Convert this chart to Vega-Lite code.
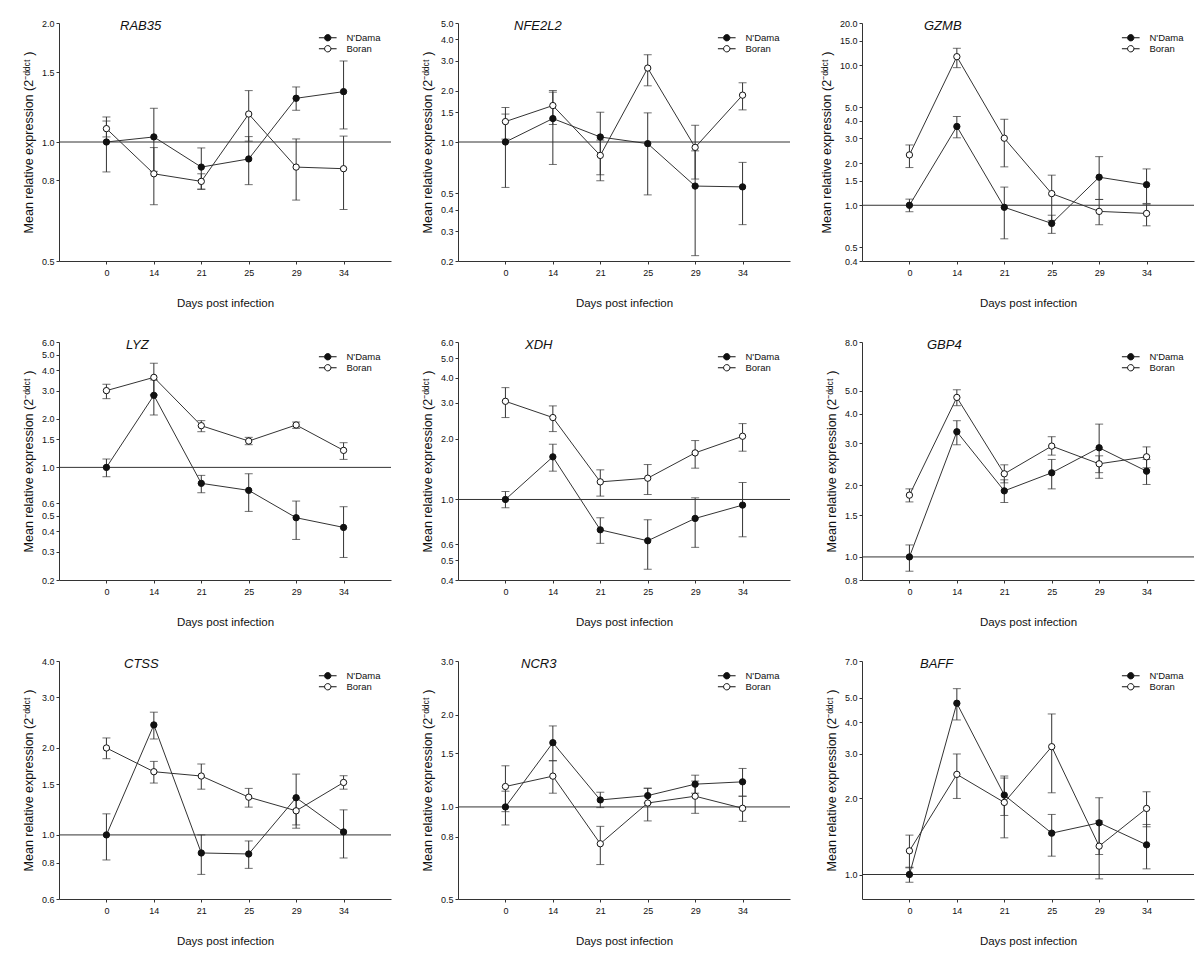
{
  "$schema": "https://vega.github.io/schema/vega-lite/v6.json",
  "padding": {"left": 22, "top": 19, "right": 5, "bottom": 5},
  "spacing": {"row": 29, "column": 29},
  "columns": 3,
  "datasets": {
    "d": [
      {"gene":"RAB35","day":0,"breed":"N'Dama","mean":1.0,"lo":0.84,"hi":1.157},
      {"gene":"RAB35","day":14,"breed":"N'Dama","mean":1.03,"lo":0.843,"hi":1.217},
      {"gene":"RAB35","day":21,"breed":"N'Dama","mean":0.864,"lo":0.76,"hi":0.966},
      {"gene":"RAB35","day":25,"breed":"N'Dama","mean":0.906,"lo":0.78,"hi":1.032},
      {"gene":"RAB35","day":29,"breed":"N'Dama","mean":1.29,"lo":1.203,"hi":1.378},
      {"gene":"RAB35","day":34,"breed":"N'Dama","mean":1.341,"lo":1.079,"hi":1.603},
      {"gene":"RAB35","day":0,"breed":"Boran","mean":1.081,"lo":1.03,"hi":1.13},
      {"gene":"RAB35","day":14,"breed":"Boran","mean":0.831,"lo":0.694,"hi":0.968},
      {"gene":"RAB35","day":21,"breed":"Boran","mean":0.795,"lo":0.759,"hi":0.831},
      {"gene":"RAB35","day":25,"breed":"Boran","mean":1.177,"lo":1.005,"hi":1.349},
      {"gene":"RAB35","day":29,"breed":"Boran","mean":0.864,"lo":0.713,"hi":1.018},
      {"gene":"RAB35","day":34,"breed":"Boran","mean":0.856,"lo":0.675,"hi":1.035},

      {"gene":"NFE2L2","day":0,"breed":"N'Dama","mean":1.0,"lo":0.541,"hi":1.459},
      {"gene":"NFE2L2","day":14,"breed":"N'Dama","mean":1.373,"lo":0.738,"hi":1.962},
      {"gene":"NFE2L2","day":21,"breed":"N'Dama","mean":1.07,"lo":0.592,"hi":1.496},
      {"gene":"NFE2L2","day":25,"breed":"N'Dama","mean":0.978,"lo":0.489,"hi":1.483},
      {"gene":"NFE2L2","day":29,"breed":"N'Dama","mean":0.551,"lo":0.215,"hi":0.887},
      {"gene":"NFE2L2","day":34,"breed":"N'Dama","mean":0.545,"lo":0.327,"hi":0.759},
      {"gene":"NFE2L2","day":0,"breed":"Boran","mean":1.318,"lo":1.04,"hi":1.594},
      {"gene":"NFE2L2","day":14,"breed":"Boran","mean":1.637,"lo":1.267,"hi":2.007},
      {"gene":"NFE2L2","day":21,"breed":"Boran","mean":0.834,"lo":0.642,"hi":1.026},
      {"gene":"NFE2L2","day":25,"breed":"Boran","mean":2.718,"lo":2.138,"hi":3.255},
      {"gene":"NFE2L2","day":29,"breed":"Boran","mean":0.93,"lo":0.606,"hi":1.254},
      {"gene":"NFE2L2","day":34,"breed":"Boran","mean":1.884,"lo":1.544,"hi":2.228},

      {"gene":"GZMB","day":0,"breed":"N'Dama","mean":1.0,"lo":0.899,"hi":1.106},
      {"gene":"GZMB","day":14,"breed":"N'Dama","mean":3.65,"lo":3.03,"hi":4.3},
      {"gene":"GZMB","day":21,"breed":"N'Dama","mean":0.967,"lo":0.576,"hi":1.348},
      {"gene":"GZMB","day":25,"breed":"N'Dama","mean":0.742,"lo":0.63,"hi":0.849},
      {"gene":"GZMB","day":29,"breed":"N'Dama","mean":1.586,"lo":1.1,"hi":2.224},
      {"gene":"GZMB","day":34,"breed":"N'Dama","mean":1.402,"lo":1.03,"hi":1.817},
      {"gene":"GZMB","day":0,"breed":"Boran","mean":2.288,"lo":1.858,"hi":2.694},
      {"gene":"GZMB","day":14,"breed":"Boran","mean":11.5,"lo":9.6,"hi":13.2},
      {"gene":"GZMB","day":21,"breed":"Boran","mean":3.01,"lo":1.88,"hi":4.11},
      {"gene":"GZMB","day":25,"breed":"Boran","mean":1.211,"lo":0.78,"hi":1.64},
      {"gene":"GZMB","day":29,"breed":"Boran","mean":0.904,"lo":0.726,"hi":1.1},
      {"gene":"GZMB","day":34,"breed":"Boran","mean":0.874,"lo":0.713,"hi":1.017},

      {"gene":"LYZ","day":0,"breed":"N'Dama","mean":1.0,"lo":0.875,"hi":1.127},
      {"gene":"LYZ","day":14,"breed":"N'Dama","mean":2.8,"lo":2.114,"hi":3.49},
      {"gene":"LYZ","day":21,"breed":"N'Dama","mean":0.796,"lo":0.696,"hi":0.892},
      {"gene":"LYZ","day":25,"breed":"N'Dama","mean":0.72,"lo":0.533,"hi":0.913},
      {"gene":"LYZ","day":29,"breed":"N'Dama","mean":0.487,"lo":0.357,"hi":0.618},
      {"gene":"LYZ","day":34,"breed":"N'Dama","mean":0.424,"lo":0.276,"hi":0.57},
      {"gene":"LYZ","day":0,"breed":"Boran","mean":2.995,"lo":2.67,"hi":3.28},
      {"gene":"LYZ","day":14,"breed":"Boran","mean":3.62,"lo":2.82,"hi":4.43},
      {"gene":"LYZ","day":21,"breed":"Boran","mean":1.815,"lo":1.665,"hi":1.95},
      {"gene":"LYZ","day":25,"breed":"Boran","mean":1.457,"lo":1.383,"hi":1.536},
      {"gene":"LYZ","day":29,"breed":"Boran","mean":1.833,"lo":1.746,"hi":1.912},
      {"gene":"LYZ","day":34,"breed":"Boran","mean":1.275,"lo":1.121,"hi":1.423},

      {"gene":"XDH","day":0,"breed":"N'Dama","mean":1.0,"lo":0.91,"hi":1.095},
      {"gene":"XDH","day":14,"breed":"N'Dama","mean":1.624,"lo":1.38,"hi":1.875},
      {"gene":"XDH","day":21,"breed":"N'Dama","mean":0.708,"lo":0.607,"hi":0.812},
      {"gene":"XDH","day":25,"breed":"N'Dama","mean":0.625,"lo":0.452,"hi":0.794},
      {"gene":"XDH","day":29,"breed":"N'Dama","mean":0.806,"lo":0.58,"hi":1.019},
      {"gene":"XDH","day":34,"breed":"N'Dama","mean":0.938,"lo":0.654,"hi":1.213},
      {"gene":"XDH","day":0,"breed":"Boran","mean":3.056,"lo":2.54,"hi":3.57},
      {"gene":"XDH","day":14,"breed":"Boran","mean":2.54,"lo":2.165,"hi":2.9},
      {"gene":"XDH","day":21,"breed":"Boran","mean":1.222,"lo":1.039,"hi":1.401},
      {"gene":"XDH","day":25,"breed":"Boran","mean":1.274,"lo":1.058,"hi":1.488},
      {"gene":"XDH","day":29,"breed":"Boran","mean":1.699,"lo":1.428,"hi":1.955},
      {"gene":"XDH","day":34,"breed":"Boran","mean":2.053,"lo":1.732,"hi":2.371},

      {"gene":"GBP4","day":0,"breed":"N'Dama","mean":1.0,"lo":0.871,"hi":1.123},
      {"gene":"GBP4","day":14,"breed":"N'Dama","mean":3.357,"lo":2.96,"hi":3.736},
      {"gene":"GBP4","day":21,"breed":"N'Dama","mean":1.895,"lo":1.693,"hi":2.109},
      {"gene":"GBP4","day":25,"breed":"N'Dama","mean":2.257,"lo":1.932,"hi":2.568},
      {"gene":"GBP4","day":29,"breed":"N'Dama","mean":2.875,"lo":2.14,"hi":3.615},
      {"gene":"GBP4","day":34,"breed":"N'Dama","mean":2.293,"lo":2.016,"hi":2.57},
      {"gene":"GBP4","day":0,"breed":"Boran","mean":1.818,"lo":1.703,"hi":1.932},
      {"gene":"GBP4","day":14,"breed":"Boran","mean":4.68,"lo":4.32,"hi":5.04},
      {"gene":"GBP4","day":21,"breed":"Boran","mean":2.235,"lo":2.048,"hi":2.438},
      {"gene":"GBP4","day":25,"breed":"Boran","mean":2.922,"lo":2.678,"hi":3.2},
      {"gene":"GBP4","day":29,"breed":"Boran","mean":2.462,"lo":2.26,"hi":2.66},
      {"gene":"GBP4","day":34,"breed":"Boran","mean":2.635,"lo":2.37,"hi":2.9},

      {"gene":"CTSS","day":0,"breed":"N'Dama","mean":1.0,"lo":0.819,"hi":1.183},
      {"gene":"CTSS","day":14,"breed":"N'Dama","mean":2.403,"lo":2.148,"hi":2.66},
      {"gene":"CTSS","day":21,"breed":"N'Dama","mean":0.866,"lo":0.73,"hi":1.0},
      {"gene":"CTSS","day":25,"breed":"N'Dama","mean":0.859,"lo":0.766,"hi":0.953},
      {"gene":"CTSS","day":29,"breed":"N'Dama","mean":1.345,"lo":1.055,"hi":1.624},
      {"gene":"CTSS","day":34,"breed":"N'Dama","mean":1.024,"lo":0.832,"hi":1.221},
      {"gene":"CTSS","day":0,"breed":"Boran","mean":2.0,"lo":1.836,"hi":2.166},
      {"gene":"CTSS","day":14,"breed":"Boran","mean":1.655,"lo":1.512,"hi":1.797},
      {"gene":"CTSS","day":21,"breed":"Boran","mean":1.599,"lo":1.44,"hi":1.76},
      {"gene":"CTSS","day":25,"breed":"Boran","mean":1.351,"lo":1.248,"hi":1.449},
      {"gene":"CTSS","day":29,"breed":"Boran","mean":1.212,"lo":1.083,"hi":1.34},
      {"gene":"CTSS","day":34,"breed":"Boran","mean":1.519,"lo":1.44,"hi":1.603},

      {"gene":"NCR3","day":0,"breed":"N'Dama","mean":1.0,"lo":0.873,"hi":1.126},
      {"gene":"NCR3","day":14,"breed":"N'Dama","mean":1.622,"lo":1.416,"hi":1.84},
      {"gene":"NCR3","day":21,"breed":"N'Dama","mean":1.054,"lo":0.995,"hi":1.117},
      {"gene":"NCR3","day":25,"breed":"N'Dama","mean":1.089,"lo":1.03,"hi":1.151},
      {"gene":"NCR3","day":29,"breed":"N'Dama","mean":1.187,"lo":1.109,"hi":1.27},
      {"gene":"NCR3","day":34,"breed":"N'Dama","mean":1.208,"lo":1.084,"hi":1.336},
      {"gene":"NCR3","day":0,"breed":"Boran","mean":1.166,"lo":0.965,"hi":1.363},
      {"gene":"NCR3","day":14,"breed":"Boran","mean":1.261,"lo":1.109,"hi":1.416},
      {"gene":"NCR3","day":21,"breed":"Boran","mean":0.758,"lo":0.648,"hi":0.864},
      {"gene":"NCR3","day":25,"breed":"Boran","mean":1.03,"lo":0.9,"hi":1.151},
      {"gene":"NCR3","day":29,"breed":"Boran","mean":1.084,"lo":0.953,"hi":1.215},
      {"gene":"NCR3","day":34,"breed":"Boran","mean":0.99,"lo":0.897,"hi":1.084},

      {"gene":"BAFF","day":0,"breed":"N'Dama","mean":1.0,"lo":0.932,"hi":1.069},
      {"gene":"BAFF","day":14,"breed":"N'Dama","mean":4.762,"lo":4.09,"hi":5.44},
      {"gene":"BAFF","day":21,"breed":"N'Dama","mean":2.062,"lo":1.713,"hi":2.454},
      {"gene":"BAFF","day":25,"breed":"N'Dama","mean":1.458,"lo":1.182,"hi":1.729},
      {"gene":"BAFF","day":29,"breed":"N'Dama","mean":1.602,"lo":1.2,"hi":2.013},
      {"gene":"BAFF","day":34,"breed":"N'Dama","mean":1.311,"lo":1.053,"hi":1.578},
      {"gene":"BAFF","day":0,"breed":"Boran","mean":1.241,"lo":1.063,"hi":1.432},
      {"gene":"BAFF","day":14,"breed":"Boran","mean":2.491,"lo":2.0,"hi":3.0},
      {"gene":"BAFF","day":21,"breed":"Boran","mean":1.929,"lo":1.397,"hi":2.409},
      {"gene":"BAFF","day":25,"breed":"Boran","mean":3.206,"lo":2.106,"hi":4.32},
      {"gene":"BAFF","day":29,"breed":"Boran","mean":1.295,"lo":0.961,"hi":1.63},
      {"gene":"BAFF","day":34,"breed":"Boran","mean":1.826,"lo":1.545,"hi":2.126}
    ]
  },
  "data": {"name": "d"},
  "resolve": {"scale": {"fill": "independent"}},
  "concat": [
    {"width":332,"height":238,"title":{"text":"RAB35","dx":61},
     "layer":[
      {"data":{"values":[{}]},"mark":{"type":"rule","color":"#333","strokeWidth":1},
       "encoding":{"y":{"datum":1,"type":"quantitative","scale":{"type":"log","domain":[0.5,2],"nice":false},"axis":{"values":[0.5,0.8,1,1.5,2],"format":".1f","title":"Mean relative expression (2⁻ᵈᵈᶜᵗ )"}}}},
      {"transform":[{"filter":"datum.gene === 'RAB35'"}],
       "encoding":{"x":{"field":"day","type":"ordinal","scale":{"type":"point","padding":1},"axis":{"title":"Days post infection"}}},
       "layer":[
        {"mark":{"type":"rule","color":"#333","strokeWidth":1},"encoding":{"y":{"field":"lo","type":"quantitative","title":"Mean relative expression (2⁻ᵈᵈᶜᵗ )"},"y2":{"field":"hi"}}},
        {"mark":{"type":"tick","color":"#333","size":8,"thickness":1},"encoding":{"y":{"field":"lo","type":"quantitative","title":"Mean relative expression (2⁻ᵈᵈᶜᵗ )"}}},
        {"mark":{"type":"tick","color":"#333","size":8,"thickness":1},"encoding":{"y":{"field":"hi","type":"quantitative","title":"Mean relative expression (2⁻ᵈᵈᶜᵗ )"}}},
        {"mark":{"type":"line","color":"#333","strokeWidth":1},"encoding":{"y":{"field":"mean","type":"quantitative","title":"Mean relative expression (2⁻ᵈᵈᶜᵗ )"},"detail":{"field":"breed"}}},
        {"mark":{"type":"point","shape":"circle","filled":true,"size":40,"stroke":"#111","strokeWidth":1,"opacity":1},"encoding":{"y":{"field":"mean","type":"quantitative","title":"Mean relative expression (2⁻ᵈᵈᶜᵗ )"},"fill":{"field":"breed","type":"nominal","scale":{"domain":["N'Dama","Boran"],"range":["#111","#fff"]},"legend":{"title":null}}}}
       ]}
     ]},
    {"width":332,"height":238,"title":{"text":"NFE2L2","dx":56},
     "layer":[
      {"data":{"values":[{}]},"mark":{"type":"rule","color":"#333","strokeWidth":1},
       "encoding":{"y":{"datum":1,"type":"quantitative","scale":{"type":"log","domain":[0.2,5],"nice":false},"axis":{"values":[0.2,0.3,0.4,0.5,1,1.5,2,3,4,5],"format":".1f","title":"Mean relative expression (2⁻ᵈᵈᶜᵗ )"}}}},
      {"transform":[{"filter":"datum.gene === 'NFE2L2'"}],
       "encoding":{"x":{"field":"day","type":"ordinal","scale":{"type":"point","padding":1},"axis":{"title":"Days post infection"}}},
       "layer":[
        {"mark":{"type":"rule","color":"#333","strokeWidth":1},"encoding":{"y":{"field":"lo","type":"quantitative","title":"Mean relative expression (2⁻ᵈᵈᶜᵗ )"},"y2":{"field":"hi"}}},
        {"mark":{"type":"tick","color":"#333","size":8,"thickness":1},"encoding":{"y":{"field":"lo","type":"quantitative","title":"Mean relative expression (2⁻ᵈᵈᶜᵗ )"}}},
        {"mark":{"type":"tick","color":"#333","size":8,"thickness":1},"encoding":{"y":{"field":"hi","type":"quantitative","title":"Mean relative expression (2⁻ᵈᵈᶜᵗ )"}}},
        {"mark":{"type":"line","color":"#333","strokeWidth":1},"encoding":{"y":{"field":"mean","type":"quantitative","title":"Mean relative expression (2⁻ᵈᵈᶜᵗ )"},"detail":{"field":"breed"}}},
        {"mark":{"type":"point","shape":"circle","filled":true,"size":40,"stroke":"#111","strokeWidth":1,"opacity":1},"encoding":{"y":{"field":"mean","type":"quantitative","title":"Mean relative expression (2⁻ᵈᵈᶜᵗ )"},"fill":{"field":"breed","type":"nominal","scale":{"domain":["N'Dama","Boran"],"range":["#111","#fff"]},"legend":{"title":null}}}}
       ]}
     ]},
    {"width":332,"height":238,"title":{"text":"GZMB","dx":62},
     "layer":[
      {"data":{"values":[{}]},"mark":{"type":"rule","color":"#333","strokeWidth":1},
       "encoding":{"y":{"datum":1,"type":"quantitative","scale":{"type":"log","domain":[0.4,20],"nice":false},"axis":{"values":[0.4,0.5,1,1.5,2,3,4,5,10,15,20],"format":".1f","title":"Mean relative expression (2⁻ᵈᵈᶜᵗ )"}}}},
      {"transform":[{"filter":"datum.gene === 'GZMB'"}],
       "encoding":{"x":{"field":"day","type":"ordinal","scale":{"type":"point","padding":1},"axis":{"title":"Days post infection"}}},
       "layer":[
        {"mark":{"type":"rule","color":"#333","strokeWidth":1},"encoding":{"y":{"field":"lo","type":"quantitative","title":"Mean relative expression (2⁻ᵈᵈᶜᵗ )"},"y2":{"field":"hi"}}},
        {"mark":{"type":"tick","color":"#333","size":8,"thickness":1},"encoding":{"y":{"field":"lo","type":"quantitative","title":"Mean relative expression (2⁻ᵈᵈᶜᵗ )"}}},
        {"mark":{"type":"tick","color":"#333","size":8,"thickness":1},"encoding":{"y":{"field":"hi","type":"quantitative","title":"Mean relative expression (2⁻ᵈᵈᶜᵗ )"}}},
        {"mark":{"type":"line","color":"#333","strokeWidth":1},"encoding":{"y":{"field":"mean","type":"quantitative","title":"Mean relative expression (2⁻ᵈᵈᶜᵗ )"},"detail":{"field":"breed"}}},
        {"mark":{"type":"point","shape":"circle","filled":true,"size":40,"stroke":"#111","strokeWidth":1,"opacity":1},"encoding":{"y":{"field":"mean","type":"quantitative","title":"Mean relative expression (2⁻ᵈᵈᶜᵗ )"},"fill":{"field":"breed","type":"nominal","scale":{"domain":["N'Dama","Boran"],"range":["#111","#fff"]},"legend":{"title":null}}}}
       ]}
     ]},
    {"width":332,"height":238,"title":{"text":"LYZ","dx":67},
     "layer":[
      {"data":{"values":[{}]},"mark":{"type":"rule","color":"#333","strokeWidth":1},
       "encoding":{"y":{"datum":1,"type":"quantitative","scale":{"type":"log","domain":[0.2,6],"nice":false},"axis":{"values":[0.2,0.3,0.4,0.5,0.6,1,1.5,2,3,4,5,6],"format":".1f","title":"Mean relative expression (2⁻ᵈᵈᶜᵗ )"}}}},
      {"transform":[{"filter":"datum.gene === 'LYZ'"}],
       "encoding":{"x":{"field":"day","type":"ordinal","scale":{"type":"point","padding":1},"axis":{"title":"Days post infection"}}},
       "layer":[
        {"mark":{"type":"rule","color":"#333","strokeWidth":1},"encoding":{"y":{"field":"lo","type":"quantitative","title":"Mean relative expression (2⁻ᵈᵈᶜᵗ )"},"y2":{"field":"hi"}}},
        {"mark":{"type":"tick","color":"#333","size":8,"thickness":1},"encoding":{"y":{"field":"lo","type":"quantitative","title":"Mean relative expression (2⁻ᵈᵈᶜᵗ )"}}},
        {"mark":{"type":"tick","color":"#333","size":8,"thickness":1},"encoding":{"y":{"field":"hi","type":"quantitative","title":"Mean relative expression (2⁻ᵈᵈᶜᵗ )"}}},
        {"mark":{"type":"line","color":"#333","strokeWidth":1},"encoding":{"y":{"field":"mean","type":"quantitative","title":"Mean relative expression (2⁻ᵈᵈᶜᵗ )"},"detail":{"field":"breed"}}},
        {"mark":{"type":"point","shape":"circle","filled":true,"size":40,"stroke":"#111","strokeWidth":1,"opacity":1},"encoding":{"y":{"field":"mean","type":"quantitative","title":"Mean relative expression (2⁻ᵈᵈᶜᵗ )"},"fill":{"field":"breed","type":"nominal","scale":{"domain":["N'Dama","Boran"],"range":["#111","#fff"]},"legend":{"title":null}}}}
       ]}
     ]},
    {"width":332,"height":238,"title":{"text":"XDH","dx":67},
     "layer":[
      {"data":{"values":[{}]},"mark":{"type":"rule","color":"#333","strokeWidth":1},
       "encoding":{"y":{"datum":1,"type":"quantitative","scale":{"type":"log","domain":[0.4,6],"nice":false},"axis":{"values":[0.4,0.5,0.6,1,2,3,4,5,6],"format":".1f","title":"Mean relative expression (2⁻ᵈᵈᶜᵗ )"}}}},
      {"transform":[{"filter":"datum.gene === 'XDH'"}],
       "encoding":{"x":{"field":"day","type":"ordinal","scale":{"type":"point","padding":1},"axis":{"title":"Days post infection"}}},
       "layer":[
        {"mark":{"type":"rule","color":"#333","strokeWidth":1},"encoding":{"y":{"field":"lo","type":"quantitative","title":"Mean relative expression (2⁻ᵈᵈᶜᵗ )"},"y2":{"field":"hi"}}},
        {"mark":{"type":"tick","color":"#333","size":8,"thickness":1},"encoding":{"y":{"field":"lo","type":"quantitative","title":"Mean relative expression (2⁻ᵈᵈᶜᵗ )"}}},
        {"mark":{"type":"tick","color":"#333","size":8,"thickness":1},"encoding":{"y":{"field":"hi","type":"quantitative","title":"Mean relative expression (2⁻ᵈᵈᶜᵗ )"}}},
        {"mark":{"type":"line","color":"#333","strokeWidth":1},"encoding":{"y":{"field":"mean","type":"quantitative","title":"Mean relative expression (2⁻ᵈᵈᶜᵗ )"},"detail":{"field":"breed"}}},
        {"mark":{"type":"point","shape":"circle","filled":true,"size":40,"stroke":"#111","strokeWidth":1,"opacity":1},"encoding":{"y":{"field":"mean","type":"quantitative","title":"Mean relative expression (2⁻ᵈᵈᶜᵗ )"},"fill":{"field":"breed","type":"nominal","scale":{"domain":["N'Dama","Boran"],"range":["#111","#fff"]},"legend":{"title":null}}}}
       ]}
     ]},
    {"width":332,"height":238,"title":{"text":"GBP4","dx":65},
     "layer":[
      {"data":{"values":[{}]},"mark":{"type":"rule","color":"#333","strokeWidth":1},
       "encoding":{"y":{"datum":1,"type":"quantitative","scale":{"type":"log","domain":[0.8,8],"nice":false},"axis":{"values":[0.8,1,1.5,2,3,4,5,8],"format":".1f","title":"Mean relative expression (2⁻ᵈᵈᶜᵗ )"}}}},
      {"transform":[{"filter":"datum.gene === 'GBP4'"}],
       "encoding":{"x":{"field":"day","type":"ordinal","scale":{"type":"point","padding":1},"axis":{"title":"Days post infection"}}},
       "layer":[
        {"mark":{"type":"rule","color":"#333","strokeWidth":1},"encoding":{"y":{"field":"lo","type":"quantitative","title":"Mean relative expression (2⁻ᵈᵈᶜᵗ )"},"y2":{"field":"hi"}}},
        {"mark":{"type":"tick","color":"#333","size":8,"thickness":1},"encoding":{"y":{"field":"lo","type":"quantitative","title":"Mean relative expression (2⁻ᵈᵈᶜᵗ )"}}},
        {"mark":{"type":"tick","color":"#333","size":8,"thickness":1},"encoding":{"y":{"field":"hi","type":"quantitative","title":"Mean relative expression (2⁻ᵈᵈᶜᵗ )"}}},
        {"mark":{"type":"line","color":"#333","strokeWidth":1},"encoding":{"y":{"field":"mean","type":"quantitative","title":"Mean relative expression (2⁻ᵈᵈᶜᵗ )"},"detail":{"field":"breed"}}},
        {"mark":{"type":"point","shape":"circle","filled":true,"size":40,"stroke":"#111","strokeWidth":1,"opacity":1},"encoding":{"y":{"field":"mean","type":"quantitative","title":"Mean relative expression (2⁻ᵈᵈᶜᵗ )"},"fill":{"field":"breed","type":"nominal","scale":{"domain":["N'Dama","Boran"],"range":["#111","#fff"]},"legend":{"title":null}}}}
       ]}
     ]},
    {"width":332,"height":238,"title":{"text":"CTSS","dx":65},
     "layer":[
      {"data":{"values":[{}]},"mark":{"type":"rule","color":"#333","strokeWidth":1},
       "encoding":{"y":{"datum":1,"type":"quantitative","scale":{"type":"log","domain":[0.6,4],"nice":false},"axis":{"values":[0.6,0.8,1,1.5,2,3,4],"format":".1f","title":"Mean relative expression (2⁻ᵈᵈᶜᵗ )"}}}},
      {"transform":[{"filter":"datum.gene === 'CTSS'"}],
       "encoding":{"x":{"field":"day","type":"ordinal","scale":{"type":"point","padding":1},"axis":{"title":"Days post infection"}}},
       "layer":[
        {"mark":{"type":"rule","color":"#333","strokeWidth":1},"encoding":{"y":{"field":"lo","type":"quantitative","title":"Mean relative expression (2⁻ᵈᵈᶜᵗ )"},"y2":{"field":"hi"}}},
        {"mark":{"type":"tick","color":"#333","size":8,"thickness":1},"encoding":{"y":{"field":"lo","type":"quantitative","title":"Mean relative expression (2⁻ᵈᵈᶜᵗ )"}}},
        {"mark":{"type":"tick","color":"#333","size":8,"thickness":1},"encoding":{"y":{"field":"hi","type":"quantitative","title":"Mean relative expression (2⁻ᵈᵈᶜᵗ )"}}},
        {"mark":{"type":"line","color":"#333","strokeWidth":1},"encoding":{"y":{"field":"mean","type":"quantitative","title":"Mean relative expression (2⁻ᵈᵈᶜᵗ )"},"detail":{"field":"breed"}}},
        {"mark":{"type":"point","shape":"circle","filled":true,"size":40,"stroke":"#111","strokeWidth":1,"opacity":1},"encoding":{"y":{"field":"mean","type":"quantitative","title":"Mean relative expression (2⁻ᵈᵈᶜᵗ )"},"fill":{"field":"breed","type":"nominal","scale":{"domain":["N'Dama","Boran"],"range":["#111","#fff"]},"legend":{"title":null}}}}
       ]}
     ]},
    {"width":332,"height":238,"title":{"text":"NCR3","dx":63},
     "layer":[
      {"data":{"values":[{}]},"mark":{"type":"rule","color":"#333","strokeWidth":1},
       "encoding":{"y":{"datum":1,"type":"quantitative","scale":{"type":"log","domain":[0.5,3],"nice":false},"axis":{"values":[0.5,0.8,1,1.5,2,3],"format":".1f","title":"Mean relative expression (2⁻ᵈᵈᶜᵗ )"}}}},
      {"transform":[{"filter":"datum.gene === 'NCR3'"}],
       "encoding":{"x":{"field":"day","type":"ordinal","scale":{"type":"point","padding":1},"axis":{"title":"Days post infection"}}},
       "layer":[
        {"mark":{"type":"rule","color":"#333","strokeWidth":1},"encoding":{"y":{"field":"lo","type":"quantitative","title":"Mean relative expression (2⁻ᵈᵈᶜᵗ )"},"y2":{"field":"hi"}}},
        {"mark":{"type":"tick","color":"#333","size":8,"thickness":1},"encoding":{"y":{"field":"lo","type":"quantitative","title":"Mean relative expression (2⁻ᵈᵈᶜᵗ )"}}},
        {"mark":{"type":"tick","color":"#333","size":8,"thickness":1},"encoding":{"y":{"field":"hi","type":"quantitative","title":"Mean relative expression (2⁻ᵈᵈᶜᵗ )"}}},
        {"mark":{"type":"line","color":"#333","strokeWidth":1},"encoding":{"y":{"field":"mean","type":"quantitative","title":"Mean relative expression (2⁻ᵈᵈᶜᵗ )"},"detail":{"field":"breed"}}},
        {"mark":{"type":"point","shape":"circle","filled":true,"size":40,"stroke":"#111","strokeWidth":1,"opacity":1},"encoding":{"y":{"field":"mean","type":"quantitative","title":"Mean relative expression (2⁻ᵈᵈᶜᵗ )"},"fill":{"field":"breed","type":"nominal","scale":{"domain":["N'Dama","Boran"],"range":["#111","#fff"]},"legend":{"title":null}}}}
       ]}
     ]},
    {"width":332,"height":238,"title":{"text":"BAFF","dx":58},
     "layer":[
      {"data":{"values":[{}]},"mark":{"type":"rule","color":"#333","strokeWidth":1},
       "encoding":{"y":{"datum":1,"type":"quantitative","scale":{"type":"log","domain":[0.8,7],"nice":false},"axis":{"values":[1,2,3,4,5,7],"format":".1f","title":"Mean relative expression (2⁻ᵈᵈᶜᵗ )"}}}},
      {"transform":[{"filter":"datum.gene === 'BAFF'"}],
       "encoding":{"x":{"field":"day","type":"ordinal","scale":{"type":"point","padding":1},"axis":{"title":"Days post infection"}}},
       "layer":[
        {"mark":{"type":"rule","color":"#333","strokeWidth":1},"encoding":{"y":{"field":"lo","type":"quantitative","title":"Mean relative expression (2⁻ᵈᵈᶜᵗ )"},"y2":{"field":"hi"}}},
        {"mark":{"type":"tick","color":"#333","size":8,"thickness":1},"encoding":{"y":{"field":"lo","type":"quantitative","title":"Mean relative expression (2⁻ᵈᵈᶜᵗ )"}}},
        {"mark":{"type":"tick","color":"#333","size":8,"thickness":1},"encoding":{"y":{"field":"hi","type":"quantitative","title":"Mean relative expression (2⁻ᵈᵈᶜᵗ )"}}},
        {"mark":{"type":"line","color":"#333","strokeWidth":1},"encoding":{"y":{"field":"mean","type":"quantitative","title":"Mean relative expression (2⁻ᵈᵈᶜᵗ )"},"detail":{"field":"breed"}}},
        {"mark":{"type":"point","shape":"circle","filled":true,"size":40,"stroke":"#111","strokeWidth":1,"opacity":1},"encoding":{"y":{"field":"mean","type":"quantitative","title":"Mean relative expression (2⁻ᵈᵈᶜᵗ )"},"fill":{"field":"breed","type":"nominal","scale":{"domain":["N'Dama","Boran"],"range":["#111","#fff"]},"legend":{"title":null}}}}
       ]}
     ]}
  ],
  "config": {
    "font": "Liberation Sans",
    "view": {"stroke": null},
    "axis": {"grid": false, "domainColor": "#333", "tickColor": "#333", "labelColor": "#111", "titleColor": "#111", "labelFontSize": 9, "titleFontSize": 11.5, "titleFontWeight": "normal", "tickSize": 3, "labelPadding": 2},
    "axisX": {"labelAngle": 0, "titlePadding": 20, "labelPadding": 4},
    "axisY": {"titlePadding": 6, "titleFontSize": 12.5},
    "title": {"anchor": "start", "frame": "group", "fontSize": 13, "fontStyle": "italic", "fontWeight": "normal", "offset": -14, "color": "#111"},
    "legend": {"orient": "top-right", "offset": 10, "padding": 0, "labelFontSize": 9.5, "labelColor": "#111", "symbolSize": 40, "symbolStrokeColor": "#111", "symbolStrokeWidth": 1, "symbolType": "M-2.8,0H-1M1,0H2.8M1,0A1,1,0,1,1,-1,0A1,1,0,1,1,1,0Z", "labelOffset": 14, "rowPadding": 0}
  }
}
